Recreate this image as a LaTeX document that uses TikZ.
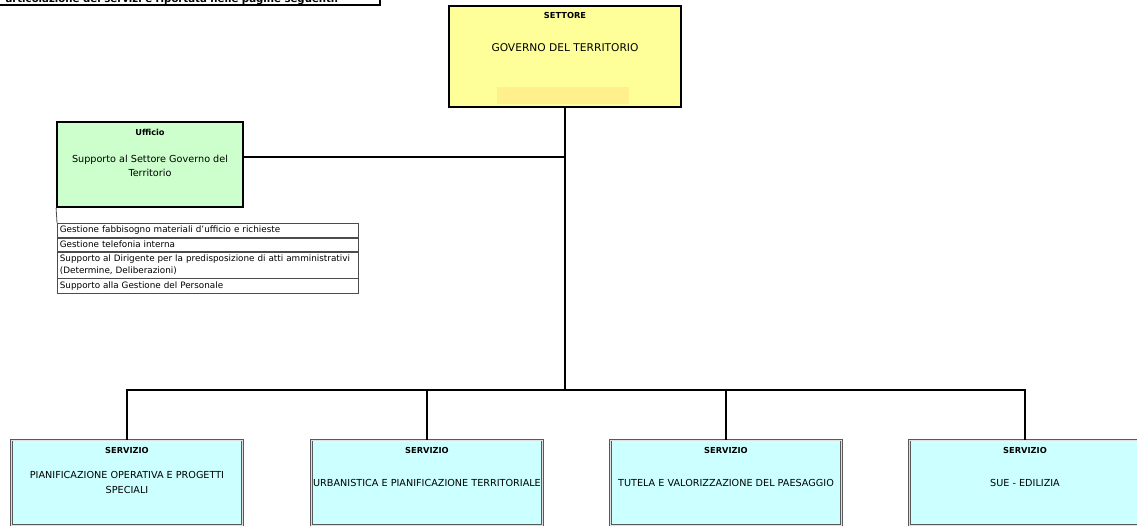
\documentclass[tikz,border=0pt]{standalone}
\usepackage{fontspec}
\setmainfont{DejaVu Sans}
\usepackage{tikz}
\usetikzlibrary{positioning}
\definecolor{settcol}{RGB}{255,255,153}
\definecolor{settbar}{RGB}{255,240,140}
\definecolor{uffcol}{RGB}{204,255,204}
\definecolor{servcol}{RGB}{204,255,255}

\begin{document}
\begin{tikzpicture}[x=1bp,y=-1bp,
  conn/.style={line width=1.8bp},
  tit/.style={font=\fontsize{8.3}{9.6}\selectfont\bfseries},
  boxS/.style={draw,line width=1.8bp,fill=settcol,minimum width=232bp,minimum height=101bp,inner sep=0pt},
  boxU/.style={draw,line width=1.8bp,fill=uffcol,minimum width=186bp,minimum height=85bp,inner sep=0pt},
  boxV/.style={draw=black!65,line width=0.9bp,double=black!12,double distance=0.9bp,fill=servcol,
    minimum width=231bp,minimum height=85bp,inner sep=0pt,align=center,font=\fontsize{9.7}{16}\selectfont},
  riga/.style={draw=black!70,line width=0.8bp,text width=296bp,inner xsep=2.5bp,inner ysep=1bp,
    align=left,font=\fontsize{8.85}{12}\selectfont}]
\useasboundingbox (0,0) rectangle (1137,527);
\clip (0,0) rectangle (1137,527);
\node[draw,line width=1.8bp,minimum width=420bp,minimum height=40bp,anchor=south east] (N) at (381,6) {};
\node[anchor=base west,font=\fontsize{10.2}{12}\selectfont\bfseries] (Nt) at (2,3) {articolazione dei servizi è riportata nelle pagine seguenti.};
% settore
\node[boxS] (S) at (565,56.5) {};
\fill[settbar] (497,87) rectangle (629,104);
\node[tit] (St) at (565,15) {SETTORE};
\node[font=\fontsize{10.7}{13}\selectfont] (Sn) at (565,48) {GOVERNO DEL TERRITORIO};
% ufficio
\node[boxU] (U) at (150,164.5) {};
\node[tit] (Ut) at (150,132) {Ufficio};
\node[font=\fontsize{9.7}{14}\selectfont,align=center] (Un) at (150,166) {Supporto al Settore Governo del\\Territorio};
\node[riga,anchor=north west,minimum height=14bp] (r1) at (57,223) {Gestione fabbisogno materiali d'ufficio e richieste};
\node[riga,minimum height=13bp,below=0pt of r1] (r2) {Gestione telefonia interna};
\node[riga,minimum height=26bp,below=0pt of r2] (r3) {Supporto al Dirigente per la predisposizione di atti amministrativi\\(Determine, Deliberazioni)};
\node[riga,minimum height=15bp,below=0pt of r3] (r4) {Supporto alla Gestione del Personale};
\draw[draw=black!70,line width=0.8bp] (U.south west) -- (r1.north west);
% servizi
\node[boxV] (V1) at (127,482.5) {PIANIFICAZIONE OPERATIVA E PROGETTI\\SPECIALI};
\node[boxV] (V2) at (427,482.5) {URBANISTICA E PIANIFICAZIONE TERRITORIALE};
\node[boxV] (V3) at (726,482.5) {TUTELA E VALORIZZAZIONE DEL PAESAGGIO};
\node[boxV] (V4) at (1025,482.5) {SUE - EDILIZIA};
\node[tit] (V1t) at (127,450) {SERVIZIO};
\node[tit] (V2t) at (427,450) {SERVIZIO};
\node[tit] (V3t) at (726,450) {SERVIZIO};
\node[tit] (V4t) at (1025,450) {SERVIZIO};
% collegamenti
\coordinate (j1) at (565,157);
\coordinate (bar) at (565,390);
\draw[conn] (S.south) -- (bar);
\draw[conn] (U.east |- j1) -- (j1);
\draw[conn] (V1.north) |- (bar) -| (V4.north);
\draw[conn] (V2.north) -- (V2.north |- bar);
\draw[conn] (V3.north) -- (V3.north |- bar);
\end{tikzpicture}
\end{document}
